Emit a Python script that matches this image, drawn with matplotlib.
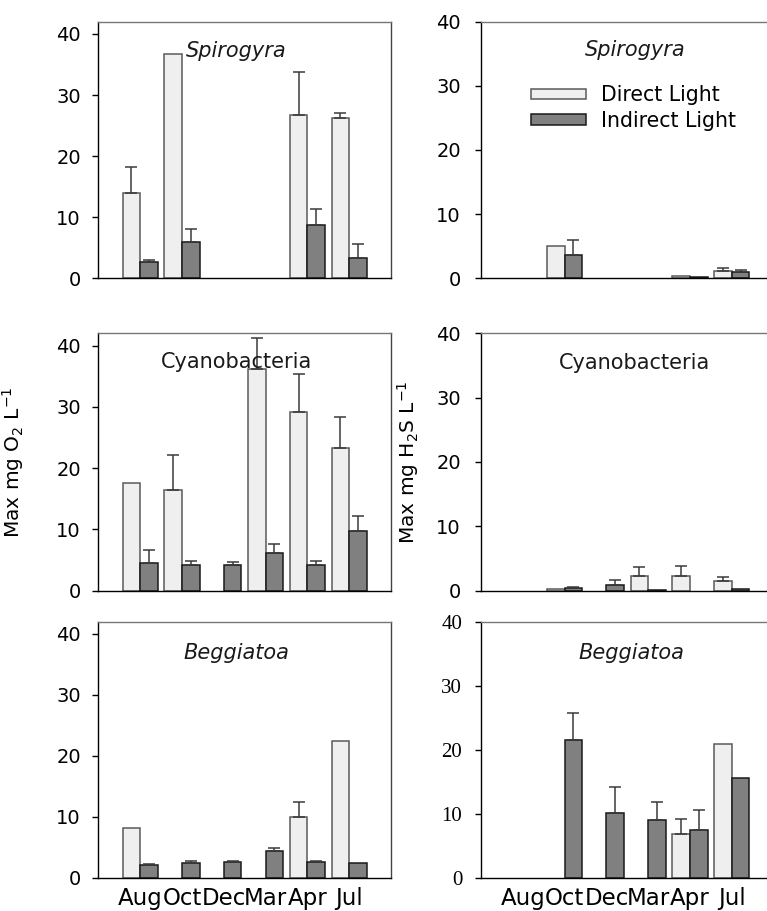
import matplotlib.pyplot as plt
import numpy as np

plt.rcParams['font.family'] = 'DejaVu Sans'

months = ['Aug', 'Oct', 'Dec', 'Mar', 'Apr', 'Jul']
legend_labels = ['Direct Light', 'Indirect Light']

# O2, left column
o2_spiro_direct = [14.0, 36.7, 0, 0, 26.7, 26.2]
o2_spiro_direct_err = [4.2, 0, 0, 0, 7.1, 0.8]
o2_spiro_indirect = [2.6, 6.0, 0, 0, 8.8, 3.3]
o2_spiro_indirect_err = [0.4, 2.1, 0, 0, 2.6, 2.3]

o2_cyano_direct = [17.6, 16.4, 0, 36.1, 29.1, 23.3]
o2_cyano_direct_err = [0, 5.8, 0, 5.2, 6.3, 5.0]
o2_cyano_indirect = [4.5, 4.1, 4.2, 6.2, 4.1, 9.7]
o2_cyano_indirect_err = [2.1, 0.8, 0.4, 1.4, 0.8, 2.5]

o2_beggi_direct = [8.1, 0, 0, 0, 9.9, 22.5]
o2_beggi_direct_err = [0, 0, 0, 0, 2.5, 0]
o2_beggi_indirect = [2.0, 2.4, 2.6, 4.4, 2.5, 2.4]
o2_beggi_indirect_err = [0.2, 0.4, 0.2, 0.4, 0.2, 0]

# H2S, right column
h2s_spiro_direct = [0, 5.1, 0, 0, 0.3, 1.1]
h2s_spiro_direct_err = [0, 0, 0, 0, 0, 0.5]
h2s_spiro_indirect = [0, 3.7, 0, 0, 0.15, 1.0]
h2s_spiro_indirect_err = [0, 2.3, 0, 0, 0, 0.3]

h2s_cyano_direct = [0, 0.3, 0, 2.3, 2.2, 1.5]
h2s_cyano_direct_err = [0, 0, 0, 1.4, 1.6, 0.6]
h2s_cyano_indirect = [0, 0.4, 0.9, 0.1, 0, 0.2]
h2s_cyano_indirect_err = [0, 0.2, 0.8, 0, 0, 0]

h2s_beggi_direct = [0, 0, 0, 0, 6.8, 20.9]
h2s_beggi_direct_err = [0, 0, 0, 0, 2.4, 0]
h2s_beggi_indirect = [0, 21.5, 10.1, 9.0, 7.5, 15.6]
h2s_beggi_indirect_err = [0, 4.3, 4.1, 2.9, 3.0, 0]

DIRECT_COLOR = '#efefef'
INDIRECT_COLOR = '#808080'
BAR_W = 0.42


def draw_panel(ax, direct, d_err, indirect, i_err, ymax):
    x = np.arange(len(months))
    series = [(-BAR_W / 2, direct, d_err, DIRECT_COLOR, '#5a5a5a', legend_labels[0]),
              (BAR_W / 2, indirect, i_err, INDIRECT_COLOR, '#1a1a1a', legend_labels[1])]
    for offset, vals, errs, fc, ec, lab in series:
        vals = np.array(vals, dtype=float)
        errs = np.array(errs, dtype=float)
        has = vals > 0  # months without a measurement get no bar
        ax.bar(x[has] + offset, vals[has], BAR_W, color=fc, edgecolor=ec,
               linewidth=1.1, label=lab)
        m = errs > 0
        if m.any():
            ax.errorbar(x[m] + offset, vals[m], yerr=[np.zeros(m.sum()), errs[m]],
                        fmt='none', ecolor='#3a3a3a', elinewidth=1.1,
                        capsize=4, capthick=1.1, zorder=1)
    ax.set_xlim(-1, 6)
    ax.set_ylim(0, ymax)
    ax.set_xticks(x)
    ax.set_yticks([0, 10, 20, 30, 40])
    ax.tick_params(axis='x', length=0, pad=7, labelsize=16.5)
    ax.tick_params(axis='y', direction='out', length=4.5, width=1, labelsize=14, pad=8)
    ax.spines['left'].set_color('black')
    ax.spines['bottom'].set_color('black')
    ax.spines['top'].set_color('#777777')
    ax.spines['right'].set_color('#444444')
    for s in ax.spines.values():
        s.set_linewidth(1)


fig = plt.figure(figsize=(7.67, 9.11), dpi=100)

row_bottom = [0.6945, 0.3518, 0.0366]
row_height = [0.2817, 0.2823, 0.2810]
col_left = [0.1282, 0.6271]
col_width = 0.3816

left_data = [
    (o2_spiro_direct, o2_spiro_direct_err, o2_spiro_indirect, o2_spiro_indirect_err),
    (o2_cyano_direct, o2_cyano_direct_err, o2_cyano_indirect, o2_cyano_indirect_err),
    (o2_beggi_direct, o2_beggi_direct_err, o2_beggi_indirect, o2_beggi_indirect_err),
]
right_data = [
    (h2s_spiro_direct, h2s_spiro_direct_err, h2s_spiro_indirect, h2s_spiro_indirect_err),
    (h2s_cyano_direct, h2s_cyano_direct_err, h2s_cyano_indirect, h2s_cyano_indirect_err),
    (h2s_beggi_direct, h2s_beggi_direct_err, h2s_beggi_indirect, h2s_beggi_indirect_err),
]
titles = ['Spirogyra', 'Cyanobacteria', 'Beggiatoa']
title_style = ['italic', 'normal', 'italic']
left_title_pos = [(0.47, 0.885), (0.471, 0.89), (0.471, 0.877)]
right_title_pos = [(0.527, 0.89), (0.524, 0.883), (0.513, 0.877)]

axes = []
for r in range(3):
    axl = fig.add_axes([col_left[0], row_bottom[r], col_width, row_height[r]])
    draw_panel(axl, *left_data[r], ymax=42)
    axr = fig.add_axes([col_left[1], row_bottom[r], col_width, row_height[r]])
    draw_panel(axr, *right_data[r], ymax=40)
    axr.tick_params(axis='y', pad=10)
    for ax, pos in [(axl, left_title_pos[r]), (axr, right_title_pos[r])]:
        ax.text(pos[0], pos[1], titles[r], transform=ax.transAxes, ha='center',
                va='center', fontsize=15, style=title_style[r], color='#1a1a1a')
        if r < 2:
            ax.set_xticklabels([])
        else:
            ax.set_xticklabels(months)
    axes.append((axl, axr))

# legend in top right panel
axes[0][1].legend(loc='upper left', bbox_to_anchor=(0.17, 0.752), frameon=False,
                  fontsize=14.8, handlelength=2.7, handleheight=0.44,
                  handletextpad=0.7, labelspacing=0.27, borderpad=0, borderaxespad=0)

# y labels on middle row
axm_l, axm_r = axes[1]
axm_l.set_ylabel('Max mg O$_2$ L$^{-1}$', fontsize=14.5)
axm_l.yaxis.label.set_va('center')
axm_l.yaxis.set_label_coords(-0.29, 0.5)
axm_r.set_ylabel('Max mg H$_2$S L$^{-1}$', fontsize=14.5)
axm_r.yaxis.label.set_va('center')
axm_r.yaxis.set_label_coords(-0.249, 0.5)

# bottom right panel uses serif tick labels
for lab in axes[2][1].get_yticklabels():
    lab.set_fontfamily('Liberation Serif')
    lab.set_fontsize(15)
axes[2][1].tick_params(axis='y', pad=9)

fig.savefig('out.png', dpi=100)
